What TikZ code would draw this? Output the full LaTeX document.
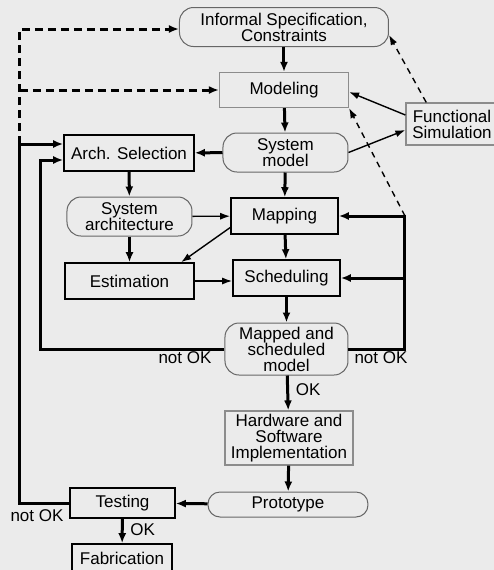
\documentclass[tikz,border=0pt]{standalone}
\usepackage{fontspec}
\setmainfont{Liberation Sans}
\usetikzlibrary{arrows.meta}
\definecolor{paper}{RGB}{235,235,235}
\tikzset{
  box/.style={draw,line width=0.8pt,align=center,inner sep=1pt},
  softbox/.style={draw=black!45,line width=0.6pt,align=center,inner sep=1pt},
  pill/.style={draw=black!60,line width=0.5pt,rounded corners=7pt,align=center,inner sep=1pt},
  flow/.style={line width=1.5pt,-{Latex[length=5pt,width=4pt]}},
  link/.style={line width=0.7pt,-{Latex[length=5pt,width=3.5pt]}},
  dflow/.style={flow,dash pattern=on 4pt off 2.5pt},
  dlink/.style={link,dash pattern=on 3pt off 2.5pt},
  every node/.style={font=\fontsize{8.5}{8}\selectfont}
}
\begin{document}
\begin{tikzpicture}[x=0.5pt,y=-0.5pt]
\fill[paper] (0,0) rectangle (494,570);
\useasboundingbox (0,0) rectangle (494,570);

% design steps
\node[pill,minimum width=104.5pt,minimum height=19.5pt] (spec) at (284,27) {Informal Specification,\\Constraints};
\node[softbox,minimum width=64.5pt,minimum height=17.5pt] (modeling) at (284,90) {Modeling};
\node[softbox,minimum width=46pt,minimum height=21pt] (funcsim) at (452,124) {Functional\\Simulation};
\node[pill,minimum width=62.5pt,minimum height=19.5pt] (sysmodel) at (285.5,152.5) {System\\model};
\node[box,minimum width=65pt,minimum height=18pt] (archsel) at (129,153) {Arch. Selection};
\node[pill,minimum width=62.5pt,minimum height=19.5pt] (sysarch) at (129.5,216.5) {System\\architecture};
\node[box,minimum width=53.5pt,minimum height=18pt] (mapping) at (284.5,216) {Mapping};
\node[box,minimum width=64.5pt,minimum height=18pt] (estim) at (129.5,281) {Estimation};
\node[box,minimum width=53.5pt,minimum height=18pt] (sched) at (286.5,278) {Scheduling};
\node[pill,minimum width=61.5pt,minimum height=26pt] (mapped) at (286.5,349) {Mapped and\\scheduled\\model};
\node[softbox,minimum width=64pt,minimum height=27pt] (impl) at (289,438) {Hardware and\\Software\\Implementation};
\node[pill,rounded corners=6pt,minimum width=80pt,minimum height=12.5pt] (proto) at (288,504.5) {Prototype};
\node[box,minimum width=52.5pt,minimum height=15pt] (testing) at (122.5,503) {Testing};
\node[box,minimum width=50pt,minimum height=14pt] (fab) at (122,558) {Fabrication};

% corners of the feedback loops
\coordinate (rtop) at (405,216);
\coordinate (rmid) at (405,278);
\coordinate (rbot) at (405,349);
\coordinate (ltop) at (41,160);
\coordinate (lbot) at (41,349);
\coordinate (otop) at (20,144);
\coordinate (obot) at (20,503);
\coordinate (dmid) at (20,90);
\coordinate (dtop) at (20,29);

% forward flow
\draw[flow] (spec) -- (modeling);
\draw[flow] (modeling) -- (sysmodel);
\draw[flow] (sysmodel) -- (mapping);
\draw[flow] (sysmodel) -- (archsel);
\draw[flow] (archsel) -- (sysarch);
\draw[flow] (sysarch) -- (estim);
\draw[link] (sysarch) -- (mapping);
\draw[link] (mapping.192) -- (estim.20);
\draw[link] (estim.east) -- (estim.east -| sched.west);
\draw[flow] (mapping) -- (sched);
\draw[flow] (sched) -- (mapped);
\draw[flow] (mapped) -- node[right,pos=0.4] (okimpl) {OK} (impl);
\draw[flow] (impl) -- (proto);
\draw[flow] (proto) -- (testing);
\draw[flow] (testing) -- node[right,pos=0.45] (okfab) {OK} (fab);

% functional simulation
\draw[link] ([yshift=4.5pt]funcsim.west) -- ([yshift=-1pt]modeling.east);
\draw[link] (sysmodel.east) -- ([yshift=-3pt]funcsim.west);
\draw[dlink] (funcsim.140) -- ([yshift=-4pt]spec.east);
\draw[dlink] (rtop) -- (modeling.south east);

% feedback loops
\draw[flow] (mapped.east) -- (rbot) -- (rtop) -- (mapping.east);
\draw[flow] (rmid) -- (sched.east);
\draw[flow] (mapped.west) -- (lbot) -- (ltop) -- (ltop -| archsel.west);
\draw[flow] (testing.west) -- (obot) -- (otop) -- (otop -| archsel.west);
\draw[dflow] (otop) -- (dtop) -- (dtop -| spec.west);
\draw[dflow] (dmid) -- (modeling.west);

\node (nokright) at (381,358) {not OK};
\node (nokleft) at (185,358) {not OK};
\node (noktest) at (37,516) {not OK};
\end{tikzpicture}
\end{document}
